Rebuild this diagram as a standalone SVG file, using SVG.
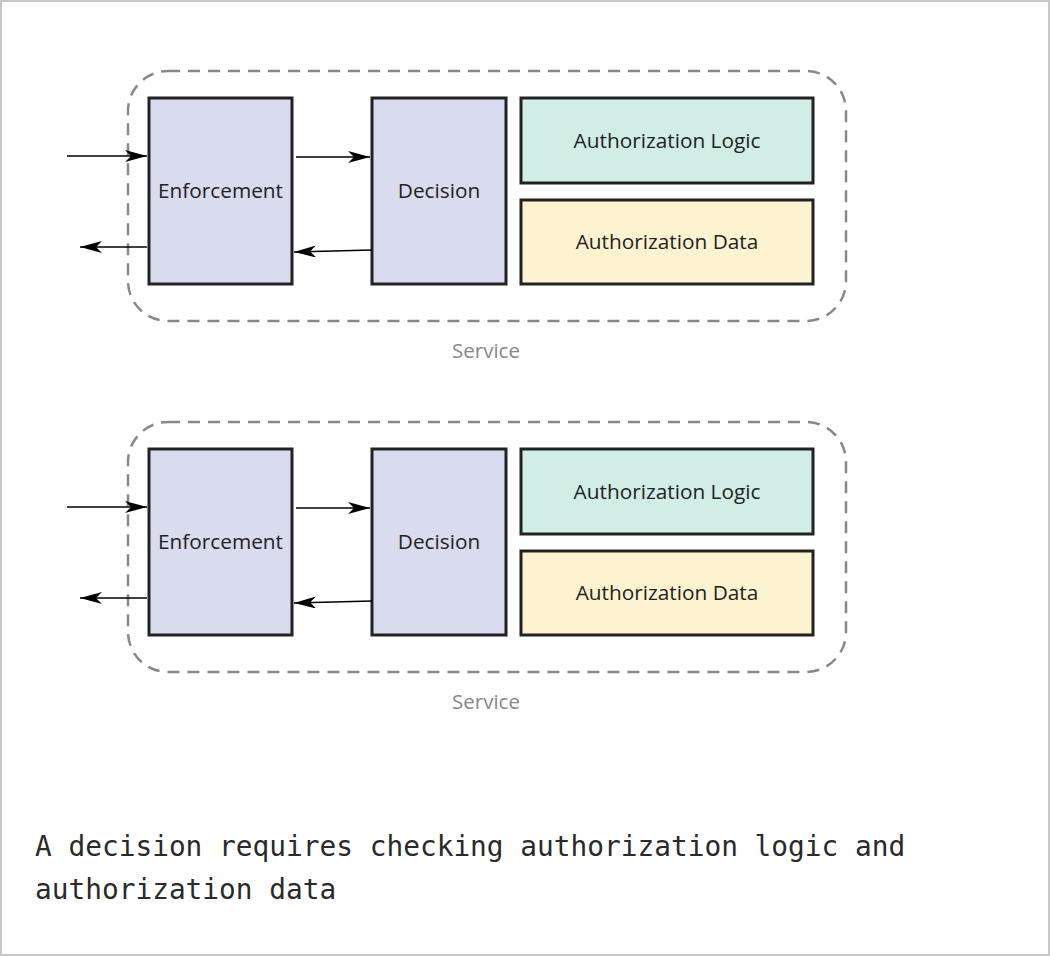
<svg xmlns="http://www.w3.org/2000/svg" width="1050" height="956" viewBox="0 0 1050 956">
<style>
.frame{fill:#fff;stroke:#c8c8c8;stroke-width:2}
.svc{fill:none;stroke:#888;stroke-width:2.5;stroke-dasharray:12 8}
.box{stroke:#222;stroke-width:3}
.purple{fill:#d9dbef}
.green{fill:#d0ede6}
.yellow{fill:#fdf3d0}
.lbl{font-family:"Open Sans","Noto Sans",sans-serif;font-size:20.8px;fill:#222;text-anchor:middle;dominant-baseline:central}
.svclbl{font-family:"Open Sans","Noto Sans",sans-serif;font-size:20.5px;fill:#888;text-anchor:middle;dominant-baseline:central}
.cap{font-family:"DejaVu Sans Mono","Liberation Mono",monospace;font-size:27.8px;fill:#2a2a2a}
.conn line{stroke:#000;stroke-width:1.5;marker-end:url(#ah)}
</style>
<defs>
<marker id="ah" viewBox="0 0 22 12" refX="22" refY="6" markerWidth="22" markerHeight="12" markerUnits="userSpaceOnUse" orient="auto">
<path d="M0,0 L22,6 L0,12 L6,6 Z" fill="#000"/>
</marker>
</defs>
<rect class="frame" x="1" y="1" width="1048" height="954"/>

<g id="service1">
<rect class="svc" x="128" y="71" width="718" height="250" rx="40"/>
<text class="svclbl" x="486" y="350">Service</text>
</g>
<g id="enforcement1">
<rect class="box purple" x="149" y="98" width="143" height="186"/>
<text class="lbl" x="220.5" y="190">Enforcement</text>
</g>
<g id="decision1">
<rect class="box purple" x="372" y="98" width="134" height="186"/>
<text class="lbl" x="439" y="190">Decision</text>
</g>
<g id="logic1">
<rect class="box green" x="521" y="98" width="292" height="85"/>
<text class="lbl" x="667" y="140">Authorization Logic</text>
</g>
<g id="data1">
<rect class="box yellow" x="521" y="200" width="292" height="84"/>
<text class="lbl" x="667" y="241">Authorization Data</text>
</g>

<g id="service2">
<rect class="svc" x="128" y="422" width="718" height="250" rx="40"/>
<text class="svclbl" x="486" y="701">Service</text>
</g>
<g id="enforcement2">
<rect class="box purple" x="149" y="449" width="143" height="186"/>
<text class="lbl" x="220.5" y="541">Enforcement</text>
</g>
<g id="decision2">
<rect class="box purple" x="372" y="449" width="134" height="186"/>
<text class="lbl" x="439" y="541">Decision</text>
</g>
<g id="logic2">
<rect class="box green" x="521" y="449" width="292" height="85"/>
<text class="lbl" x="667" y="491">Authorization Logic</text>
</g>
<g id="data2">
<rect class="box yellow" x="521" y="551" width="292" height="84"/>
<text class="lbl" x="667" y="592">Authorization Data</text>
</g>

<g id="connectors" class="conn">
<line x1="67" y1="156" x2="147" y2="156"/>
<line x1="296" y1="157" x2="370" y2="157"/>
<line x1="372" y1="250" x2="294" y2="252"/>
<line x1="147" y1="247" x2="80" y2="247"/>
<line x1="67" y1="507" x2="147" y2="507"/>
<line x1="296" y1="508" x2="370" y2="508"/>
<line x1="372" y1="601" x2="294" y2="603"/>
<line x1="147" y1="598" x2="80" y2="598"/>
</g>

<g id="caption">
<text class="cap" x="35" y="856">A decision requires checking authorization logic and</text>
<text class="cap" x="35" y="899">authorization data</text>
</g>
</svg>
